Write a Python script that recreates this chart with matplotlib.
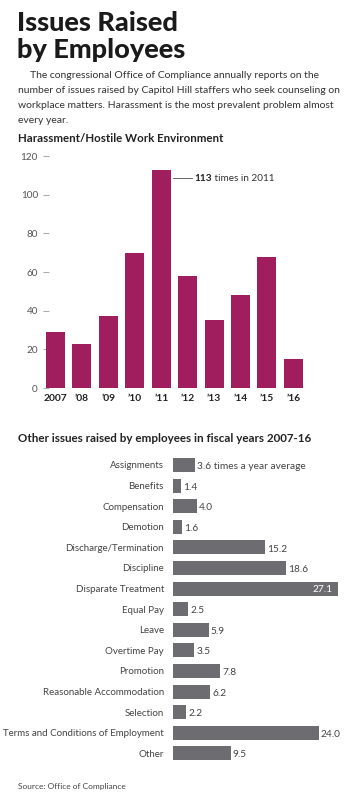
import matplotlib
matplotlib.use('Agg')
import matplotlib.pyplot as plt

# data
years = ['2007', '’08', '’09', '’10', '’11', '’12', '’13', '’14', '’15', '’16']
harassment = [29, 23, 37, 70, 113, 58, 35, 48, 68, 15]
yticks = [0, 20, 40, 60, 80, 100, 120]

issues = ['Assignments', 'Benefits', 'Compensation', 'Demotion',
          'Discharge/Termination', 'Discipline', 'Disparate Treatment',
          'Equal Pay', 'Leave', 'Overtime Pay', 'Promotion',
          'Reasonable Accommodation', 'Selection',
          'Terms and Conditions of Employment', 'Other']
avg_per_year = [3.6, 1.4, 4.0, 1.6, 15.2, 18.6, 27.1, 2.5, 5.9, 3.5, 7.8,
                6.2, 2.2, 24.0, 9.5]

MAGENTA = '#a01d5e'
GRAY = '#6d6c70'
FONT = 'Lato'

W, H = 352, 800
plt.rcParams['font.family'] = [FONT, 'DejaVu Sans']

fig = plt.figure(figsize=(W / 100, H / 100), dpi=100)


def px(x, y):
    # pixel coords (from top-left) -> figure fraction
    return x / W, 1 - y / H


def add_ax(left, top, right, bottom):
    return fig.add_axes([left / W, 1 - bottom / H, (right - left) / W, (bottom - top) / H])


# header
fig.text(*px(17, 31), 'Issues Raised', fontsize=19.5, fontweight='black', color='#1a1a1a', va='baseline')
fig.text(*px(17, 58), 'by Employees', fontsize=19.5, fontweight='black', color='#1a1a1a', va='baseline')
body = ['The congressional Office of Compliance annually reports on the',
        'number of issues raised by Capitol Hill staffers who seek counseling on',
        'workplace matters. Harassment is the most prevalent problem almost',
        'every year.']
for i, line in enumerate(body):
    x0 = 30 if i == 0 else 18
    fig.text(*px(x0, 75 + i * 15.3), line, fontsize=7.45, color='#333333', va='center')

fig.text(*px(18, 138), 'Harassment/Hostile Work Environment', fontsize=8.3,
         fontweight='bold', color='#222222', va='center')

# column chart
ax = add_ax(43, 156, 305, 388)
xs = list(range(len(years)))
ax.bar(xs, harassment, width=0.72, color=MAGENTA, zorder=2)
ax.set_xlim(-0.473, 9.44)
ax.set_ylim(0, 120)
ax.set_yticks(yticks)
ax.set_yticklabels([str(v) for v in yticks], fontsize=7.2, color='#555555')
ax.tick_params(axis='y', direction='in', length=4.5, width=0.6, color='#999999', pad=3.6)
ax.set_xticks(xs)
ax.set_xticklabels(years, fontsize=7.4, fontweight='bold', color='#222222')
ax.tick_params(axis='x', length=0, pad=4)
for s in ax.spines.values():
    s.set_visible(False)
ax.set_axisbelow(True)
ax.patch.set_alpha(0)

peak = harassment.index(max(harassment))
top = max(harassment)
ax.plot([peak + 0.45, peak + 1.15], [top - 4.5] * 2, color='#666666', lw=0.7,
        zorder=3, clip_on=False)
t1 = ax.text(peak + 1.27, top - 4.5, str(top), fontsize=7.2, fontweight='bold',
             va='center', color='#222222')
ax.annotate(' times in 2011', xy=(1, 0.5), xycoords=t1, fontsize=7.2, va='center',
            ha='left', color='#333333')

fig.text(*px(18, 439), 'Other issues raised by employees in fiscal years 2007-16',
         fontsize=8.4, fontweight='bold', color='#222222', va='center')

# bar chart
bx = add_ax(172.7, 454.7, 340, 763.6)
ys = list(range(len(issues)))
bx.barh(ys, avg_per_year, height=0.68, color=GRAY)
bx.set_ylim(len(issues) - 0.5, -0.5)
bx.set_xlim(0, 27.47)
bx.set_yticks(ys)
bx.set_yticklabels(issues, fontsize=7.0, color='#444444')
bx.tick_params(axis='y', length=0, pad=6.3)
bx.set_xticks([])
for s in bx.spines.values():
    s.set_visible(False)
bx.patch.set_alpha(0)

for y, v in zip(ys, avg_per_year):
    if v == max(avg_per_year):
        bx.text(v - 0.9, y + 0.05, f'{v:.1f}', fontsize=7.3, color='white', ha='right', va='center')
    else:
        label = f'{v:.1f}'
        if y == 0:
            label += ' times a year average'
        bx.text(v + 0.35, y + 0.08, label, fontsize=7.3, color='#444444', ha='left', va='center')

fig.text(*px(18, 786), 'Source: Office of Compliance', fontsize=6, color='#444444', va='center')

fig.savefig('out.png', dpi=100, facecolor='white')
